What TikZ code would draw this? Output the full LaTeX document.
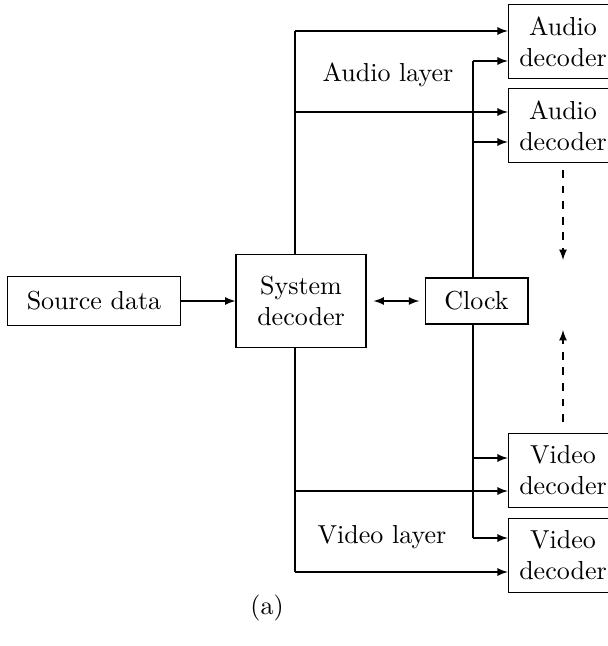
\documentclass[tikz,border=0pt]{standalone}
\usepackage{amsmath,amssymb}
\usepackage{tikz}
\usetikzlibrary{arrows}

\begin{document}
\begin{tikzpicture}[x=0.3846pt,y=-0.3846pt,>=latex,
        blk/.style={draw,align=center,inner sep=1pt},
        dec/.style={blk,minimum width=42pt,minimum height=28.1pt}]
                \useasboundingbox (0,0) rectangle (607,646);
                \node[blk,minimum width=66.9pt,minimum height=19.2pt] (src) at (94,301) {Source data};
                \node[blk,minimum width=50pt,minimum height=35.4pt] (sys) at (301,301) {System\\decoder};
                \node[blk,minimum width=39.6pt,minimum height=17.7pt] (clk) at (476.5,301) {Clock};
                \node[dec] (ad1) at (563,41.5) {Audio\\decoder};
                \node[dec] (ad2) at (563,125.5) {Audio\\decoder};
                \node[dec] (vd1) at (563,470.5) {Video\\decoder};
                \node[dec] (vd2) at (563,555.5) {Video\\decoder};
                \node (al) at (388,75) {Audio layer};
                \node (vl) at (382,537) {Video layer};
                \node (cap) at (267,608) {(a)};
                % bus from the system decoder
                \coordinate (bA1) at (295,31);
                \coordinate (bA2) at (295,112);
                \coordinate (bV1) at (295,491);
                \coordinate (bV2) at (295,572);
                % line from the clock
                \coordinate (cA1) at (473,61);
                \coordinate (cA2) at (473,142);
                \coordinate (cV1) at (473,458);
                \coordinate (cV2) at (473,538);
                \draw [->] (src) -- (sys);
                \draw [<->,shorten <=2.7pt,shorten >=2pt] (sys) -- (clk);
                \draw (bA1 |- sys.north) -- (bA1);
                \draw (bV2 |- sys.south) -- (bV2);
                \draw [->] (bA1) -- (bA1 -| ad1.west);
                \draw [->] (bA2) -- (bA2 -| ad2.west);
                \draw [->] (bV1) -- (bV1 -| vd1.west);
                \draw [->] (bV2) -- (bV2 -| vd2.west);
                \draw (cA1 |- clk.north) -- (cA1);
                \draw (cV2 |- clk.south) -- (cV2);
                \draw [->] (cA1) -- (cA1 -| ad1.west);
                \draw [->] (cA2) -- (cA2 -| ad2.west);
                \draw [->] (cV1) -- (cV1 -| vd1.west);
                \draw [->] (cV2) -- (cV2 -| vd2.west);
                % dots between the decoders
                \coordinate (dA) at (563,170);
                \coordinate (dB) at (563,260);
                \coordinate (dC) at (563,422);
                \coordinate (dD) at (563,330);
                \draw [dashed,->] (dA) -- (dB);
                \draw [dashed,->] (dC) -- (dD);
            \end{tikzpicture}
\end{document}
